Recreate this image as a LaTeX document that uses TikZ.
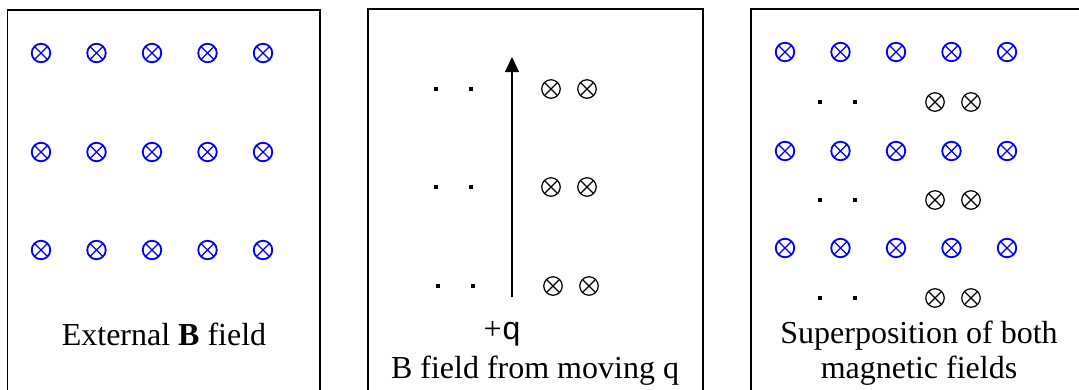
\documentclass[tikz,border=0pt]{standalone}
\usepackage{fontspec}
\setmainfont{Liberation Serif}
\newfontfamily\arialfont{Liberation Sans}
\usetikzlibrary{arrows.meta,positioning}

\begin{document}
\begin{tikzpicture}[x=1pt,y=-1pt,
  into/.style={circle,draw=#1,line width=1.2pt,minimum size=18.5pt,inner sep=0pt,
    path picture={\draw[#1,line width=1.2pt]
      (path picture bounding box.north west) -- (path picture bounding box.south east)
      (path picture bounding box.north east) -- (path picture bounding box.south west);}},
  ext/.style={into=blue,line width=1.8pt},
  own/.style={into=black},
  outof/.style={rectangle,fill=black,minimum size=4pt,inner sep=0pt},
  frame/.style={line width=1.4pt},
  caption/.style={anchor=base,font=\fontsize{32}{35}\selectfont,align=center},
  arr/.style={-{Triangle[length=15pt,width=14pt]},line width=1.3pt}
]
\useasboundingbox (0,0) rectangle (1079,389);
\clip (0,0) rectangle (1079,389);

% frames, open at the bottom
\draw[frame] (7.5,400) |- (320,10) -- (320,400);
\draw[frame] (368,400) |- (703,9) -- (703,400);
\draw[frame] (751,400) |- (1100,9);

% external field
\foreach \r/\y in {1/53,2/152,3/250}
  \foreach \c in {1,...,5}
    \node[ext] (ext\r\c) at ({41+55.5*(\c-1)},\y) {};
\node[caption] (extlabel) at (164,345) {External \textbf{B} field};

% field of the moving charge
\foreach \r/\y/\d in {1/89/0,2/187/0,3/286/2} {
  \node[outof] (qdot\r a) at (436+\d,\y) {};
  \node[outof] (qdot\r b) at (471+\d,\y) {};
  \node[own] (qin\r a) at (551+\d,\y) {};
  \node[own] (qin\r b) at (587+\d,\y) {};
}
\coordinate (qstart) at (512,297);
\coordinate (qend) at (512,57);
\draw[arr] (qstart) -- (qend);
\node[anchor=base,font=\fontsize{32}{35}\selectfont,inner sep=0pt] (charge) at (502,339)
  {\textrm{+}\kern1pt\arialfont q};
\node[caption] (qlabel) at (535,378) {B field from moving q};

% superposition
\foreach \r/\y in {1/52,2/151,3/248}
  \foreach \c in {1,...,5}
    \node[ext] (sum\r\c) at ({785+55.5*(\c-1)},\y) {};
\foreach \r/\y in {1/102,2/200,3/298} {
  \node[outof] (sdot\r a) at (820,\y) {};
  \node[outof] (sdot\r b) at (855,\y) {};
  \node[own] (sin\r a) at (935,\y) {};
  \node[own] (sin\r b) at (971,\y) {};
}
\node[caption] (sumlabel) at (919,378) {Superposition of both\\magnetic fields};
\end{tikzpicture}
\end{document}
